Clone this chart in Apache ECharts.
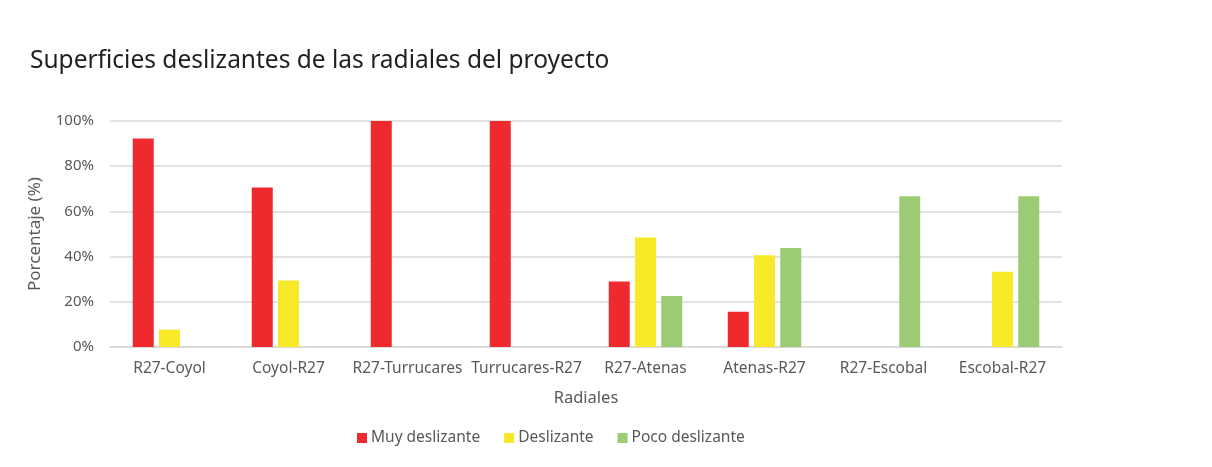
<!DOCTYPE html>
<html>
<head>
<meta charset="utf-8">
<script src="https://cdn.jsdelivr.net/npm/echarts@6/dist/echarts.min.js"></script>
<style>
  html, body { margin: 0; padding: 0; background: #fff; }
  #chart { width: 1212px; height: 467px; }
</style>
</head>
<body>
<div id="chart"></div>
<script>
// radiales del proyecto
var categories = ['R27-Coyol', 'Coyol-R27', 'R27-Turrucares', 'Turrucares-R27', 'R27-Atenas', 'Atenas-R27', 'R27-Escobal', 'Escobal-R27'];
var seriesNames = ['Muy deslizante', 'Deslizante', 'Poco deslizante'];
// fracciones (0-1)
var muyDeslizante = [0.923, 0.706, 1, 1, 0.29, 0.156, 0, 0];
var deslizante = [0.077, 0.294, 0, 0, 0.484, 0.406, 0, 0.333];
var pocoDeslizante = [0, 0, 0, 0, 0.226, 0.438, 0.667, 0.667];
var colors = ['#ee2a2e', '#f8e928', '#9bcb72'];

var labelFont = 'Noto Sans';
var grey = '#595959';

function barSeries(name, data) {
  return {
    name: name,
    type: 'bar',
    data: data,
    barWidth: 21,
    barGap: '25%'
  };
}

var chart = echarts.init(document.getElementById('chart'));
chart.setOption({
  color: colors,
  animation: false,
  title: {
    text: 'Superficies deslizantes de las radiales del proyecto',
    left: 25,
    top: 44,
    textStyle: { fontFamily: labelFont, fontSize: 24.5, fontWeight: 'normal', color: '#231f20' }
  },
  grid: { left: 110, right: 150, top: 121, bottom: 120 },
  legend: {
    data: seriesNames,
    left: 352,
    top: 425,
    itemWidth: 10,
    itemHeight: 10,
    itemGap: 24,
    icon: 'rect',
    textStyle: { fontFamily: labelFont, fontSize: 15.5, color: grey, padding: [0, 0, 0, -1] }
  },
  xAxis: {
    type: 'category',
    data: categories,
    name: 'Radiales',
    nameLocation: 'middle',
    nameGap: 43,
    nameTextStyle: { fontFamily: labelFont, fontSize: 16.5, color: grey },
    axisLine: { lineStyle: { color: '#d9d9d9', width: 1.5 } },
    axisTick: { show: false },
    axisLabel: { fontFamily: labelFont, fontSize: 15.5, color: grey, margin: 14, interval: 0 }
  },
  yAxis: {
    type: 'value',
    min: 0,
    max: 1,
    interval: 0.2,
    name: 'Porcentaje (%)',
    nameLocation: 'middle',
    nameGap: 66,
    nameTextStyle: { fontFamily: labelFont, fontSize: 17, color: grey },
    axisLine: { show: false },
    axisTick: { show: false },
    splitLine: { lineStyle: { color: '#d9d9d9', width: 1.5 } },
    axisLabel: {
      fontFamily: labelFont, fontSize: 15, color: grey, margin: 16,
      formatter: function (v) { return Math.round(v * 100) + '%'; }
    }
  },
  series: [
    barSeries(seriesNames[0], muyDeslizante),
    barSeries(seriesNames[1], deslizante),
    barSeries(seriesNames[2], pocoDeslizante)
  ]
});
</script>
</body>
</html>
